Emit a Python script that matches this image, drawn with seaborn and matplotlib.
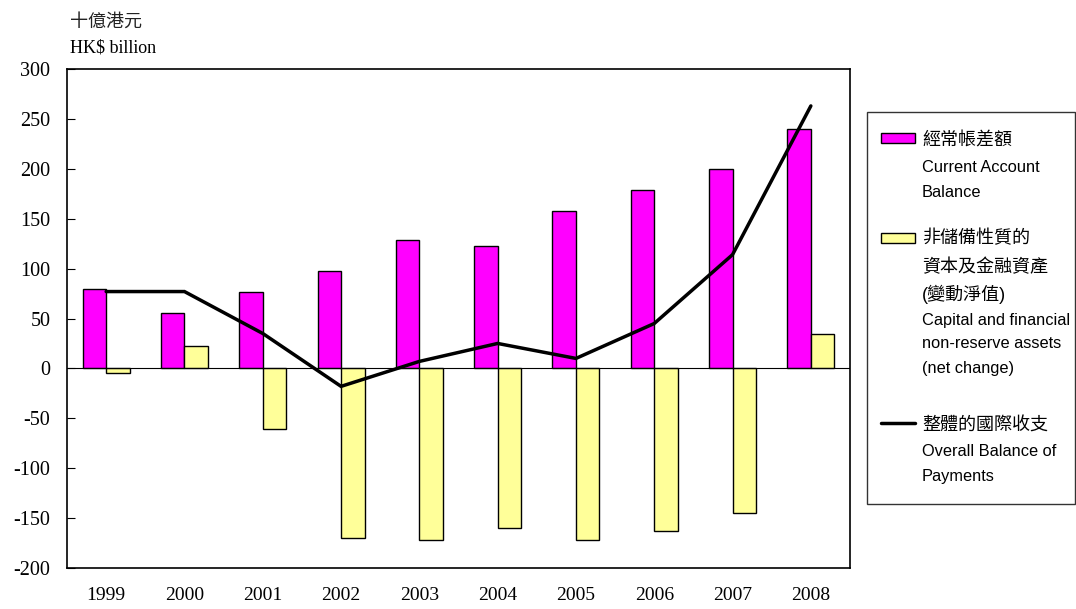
import numpy as np
import pandas as pd
import matplotlib
matplotlib.use("Agg")
import matplotlib.pyplot as plt
from matplotlib.patches import Rectangle
from matplotlib.lines import Line2D
import seaborn as sns

years = ["1999", "2000", "2001", "2002", "2003", "2004", "2005", "2006", "2007", "2008"]
current_account = [80, 56, 77, 98, 129, 123, 158, 179, 200, 240]
capital_financial = [-5, 22, -61, -170, -172, -160, -172, -163, -145, 34]
overall_bop = [77, 77, 35, -18, 7, 25, 10, 45, 114, 263]
series_names = ["current", "capital"]
y_ticks = [-200, -150, -100, -50, 0, 50, 100, 150, 200, 250, 300]

df = pd.DataFrame({
    "year": years * 2,
    "value": current_account + capital_financial,
    "series": [series_names[0]] * len(years) + [series_names[1]] * len(years),
})

sns.set_theme(style="white")
plt.rcParams["font.family"] = ["Liberation Sans", "Noto Sans CJK TC"]
plt.rcParams["text.color"] = "black"
plt.rcParams["xtick.color"] = "black"
plt.rcParams["ytick.color"] = "black"

W, H = 1076, 609
fig = plt.figure(figsize=(W / 100, H / 100), dpi=100)
ax = fig.add_axes([67 / W, 1 - 568 / H, (850 - 67) / W, (568 - 69) / H])

sns.barplot(data=df, x="year", y="value", hue="series", hue_order=series_names,
            order=years, palette={"current": "#FF00FF", "capital": "#FFFF99"},
            saturation=1, width=0.6, edgecolor="black", linewidth=1, legend=False, ax=ax)

ax.plot(np.arange(len(years)), overall_bop, color="black", lw=2.5, solid_joinstyle="miter", zorder=5)
ax.axhline(0, color="black", lw=0.8, zorder=1)

ax.set_ylim(-200, 300)
ax.set_xlim(-0.5, len(years) - 0.5)
ax.set_yticks(y_ticks)
ax.set_yticklabels([str(t) for t in y_ticks], fontfamily="Liberation Serif", fontsize=14.5, color="black")
ax.set_xticks(np.arange(len(years)))
ax.set_xticklabels(years, fontfamily="Liberation Serif", fontsize=14, color="black")
ax.tick_params(axis="y", direction="in", length=6, width=0.8, color="black", pad=12, left=True)
ax.tick_params(axis="x", length=0, pad=14)
ax.set_xlabel("")
ax.set_ylabel("")
for s in ax.spines.values():
    s.set_visible(True)
    s.set_color("black")
    s.set_linewidth(1.2)

def fx(px):
    return px / W

def fy(py):
    return 1 - py / H

fig.text(fx(70), fy(22), "十億港元", fontsize=13, family=["Noto Sans CJK TC"], va="center", ha="left", color="#222222")
fig.text(fx(70), fy(48), "HK$ billion", fontsize=13, family=["Liberation Serif"], va="center", ha="left", color="black")

# legend box
fig.patches.append(Rectangle((fx(867), fy(504)), fx(1075) - fx(867), fy(112) - fy(504),
                             transform=fig.transFigure, fill=False, edgecolor="#333333", lw=1))
fig.patches.append(Rectangle((fx(881), fy(143)), fx(915) - fx(881), fy(133) - fy(143),
                             transform=fig.transFigure, facecolor="#FF00FF", edgecolor="black", lw=1))
fig.patches.append(Rectangle((fx(881), fy(243)), fx(915) - fx(881), fy(233) - fy(243),
                             transform=fig.transFigure, facecolor="#FFFF99", edgecolor="black", lw=1))
fig.lines.append(Line2D([fx(881), fx(915)], [fy(423), fy(423)], transform=fig.transFigure,
                        color="black", lw=2.5))

legend_lines = [
    ("經常帳差額", 141, True),
    ("Current Account", 168, False),
    ("Balance", 192, False),
    ("非儲備性質的", 238, True),
    ("資本及金融資產", 268, True),
    ("(變動淨值)", 294, True),
    ("Capital and financial", 320, False),
    ("non-reserve assets", 344, False),
    ("(net change)", 369, False),
    ("整體的國際收支", 426, True),
    ("Overall Balance of", 451, False),
    ("Payments", 476, False),
]
for txt, py, cjk in legend_lines:
    fig.text(fx(922), fy(py), txt, fontsize=13 if cjk else 11.8,
             family=["Liberation Sans", "Noto Sans CJK TC"], va="center", ha="left", color="black")

fig.savefig("out.png", dpi=100)
